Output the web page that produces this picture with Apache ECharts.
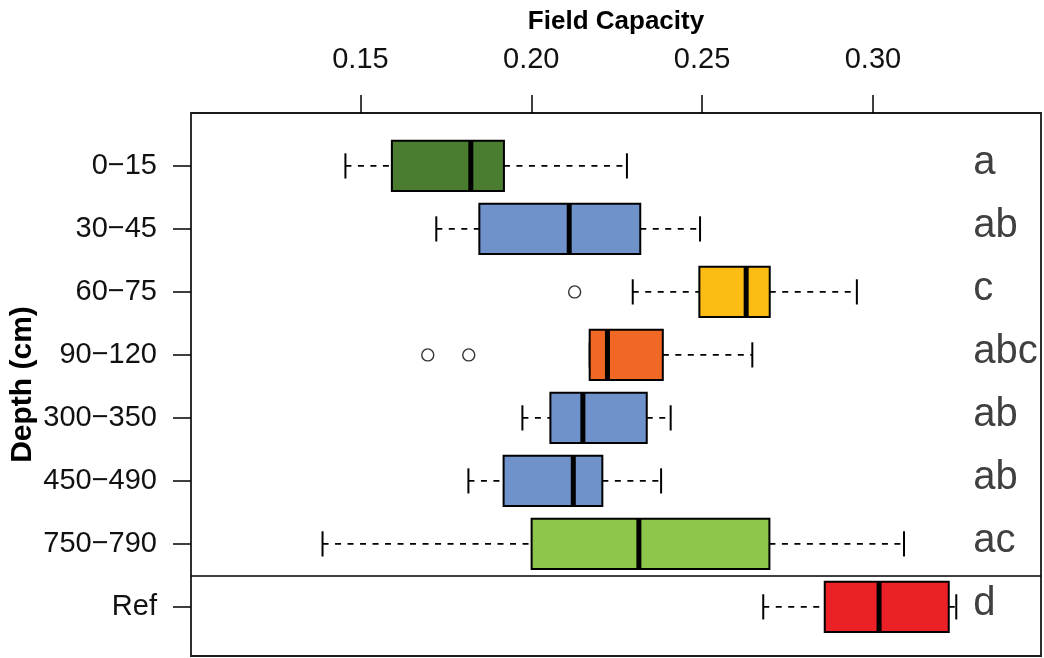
<!DOCTYPE html>
<html>
<head>
<meta charset="utf-8">
<script src="https://cdn.jsdelivr.net/npm/echarts@6/dist/echarts.min.js"></script>
<style>
  html, body { margin: 0; padding: 0; background: #fff; }
  #chart { width: 1044px; height: 658px; }
</style>
</head>
<body>
<div id="chart"></div>
<script>
// Soil field capacity by sampling depth: horizontal box plots
const categories = ['0\u221215', '30\u221245', '60\u221275', '90\u2212120', '300\u2212350', '450\u2212490', '750\u2212790', 'Ref'];
const whiskerLow  = [0.1456, 0.1722, 0.2297, 0.2171, 0.1974, 0.1816, 0.1389, 0.2679];
const lowerQuart  = [0.1592, 0.1848, 0.2492, 0.2171, 0.2056, 0.1919, 0.2001, 0.2859];
const medians     = [0.1823, 0.2111, 0.2629, 0.2223, 0.2151, 0.2123, 0.2315, 0.3018];
const upperQuart  = [0.1920, 0.2319, 0.2698, 0.2385, 0.2338, 0.2208, 0.2697, 0.3222];
const whiskerHigh = [0.2280, 0.2494, 0.2953, 0.2647, 0.2408, 0.2380, 0.3091, 0.3244];
// outliers as [depth index, value]
const outlierRows   = [2, 3, 3];
const outlierValues = [0.2127, 0.1697, 0.1817];
const groupLetters  = ['a', 'ab', 'c', 'abc', 'ab', 'ab', 'ac', 'd'];
const boxColors = ['#4a7d30', '#7092cb', '#fdbc13', '#f06823', '#7092cb', '#7092cb', '#8dc64a', '#ec2027'];
const xTicks = [0.15, 0.20, 0.25, 0.30];

const LETTER_X = 0.3294;   // x value where the group letters start
const SANS = "'Liberation Sans', Arial, sans-serif";

const boxRows = categories.map((c, i) => [i, whiskerLow[i], lowerQuart[i], medians[i], upperQuart[i], whiskerHigh[i]]);
const outlierData = outlierRows.map((r, k) => [outlierValues[k], r]);

function renderBox(params, api) {
  const i = api.value(0);
  const lo = api.coord([api.value(1), i]);
  const q1 = api.coord([api.value(2), i]);
  const md = api.coord([api.value(3), i]);
  const q3 = api.coord([api.value(4), i]);
  const hi = api.coord([api.value(5), i]);
  const y = q1[1];
  const half = api.size([0, 1])[1] * 0.4;
  const cap = half / 2;
  const dash = { stroke: '#000', lineWidth: 1.8, lineDash: [6, 6.5] };
  const solid = { stroke: '#000', lineWidth: 2 };
  const lx = api.coord([LETTER_X, i]);
  return {
    type: 'group',
    children: [
      { type: 'line', shape: { x1: lo[0], y1: y, x2: q1[0], y2: y }, style: dash },
      { type: 'line', shape: { x1: q3[0], y1: y, x2: hi[0], y2: y }, style: dash },
      { type: 'line', shape: { x1: lo[0], y1: y - cap, x2: lo[0], y2: y + cap }, style: solid },
      { type: 'line', shape: { x1: hi[0], y1: y - cap, x2: hi[0], y2: y + cap }, style: solid },
      { type: 'rect', shape: { x: q1[0], y: y - half, width: q3[0] - q1[0], height: 2 * half },
        style: { fill: boxColors[i], stroke: '#000', lineWidth: 2 } },
      { type: 'line', shape: { x1: md[0], y1: y - half, x2: md[0], y2: y + half },
        style: { stroke: '#000', lineWidth: 5 } },
      { type: 'text', x: lx[0], y: lx[1] - 3,
        style: { text: groupLetters[i], fill: '#404040', font: '40px ' + SANS, align: 'left', verticalAlign: 'middle' } }
    ]
  };
}

const chart = echarts.init(document.getElementById('chart'), null, { renderer: 'canvas' });
chart.setOption({
  animation: false,
  backgroundColor: '#fff',
  grid: { left: 191, right: 3, top: 113, bottom: 2, outerBoundsMode: 'none', containLabel: false,
    show: true, borderColor: '#1a1a1a', borderWidth: 1.8, backgroundColor: 'transparent' },
  xAxis: {
    type: 'value', position: 'top', min: 0.1004, max: 0.3492,
    name: 'Field Capacity', nameLocation: 'middle', nameGap: 78, nameMoveOverlap: false,
    nameTextStyle: { fontFamily: SANS, fontWeight: 'bold', fontSize: 26, color: '#000' },
    splitLine: { show: false },
    axisLine: { show: false, onZero: false },
    axisTick: { show: true, customValues: xTicks, length: 18, lineStyle: { color: '#000', width: 1.5 } },
    axisLabel: { customValues: xTicks, margin: 39, fontFamily: SANS, fontSize: 29, color: '#111',
      formatter: v => v.toFixed(2) }
  },
  yAxis: {
    type: 'value', inverse: true, min: -0.84, max: 7.78,
    name: 'Depth (cm)', nameLocation: 'middle', nameGap: 153, nameRotate: 90, nameMoveOverlap: false,
    nameTextStyle: { fontFamily: SANS, fontWeight: 'bold', fontSize: 30, color: '#000' },
    splitLine: { show: false },
    axisLine: { show: false, onZero: false },
    axisTick: { show: true, customValues: [0, 1, 2, 3, 4, 5, 6, 7], length: 18, lineStyle: { color: '#000', width: 1.5 } },
    axisLabel: { customValues: [0, 1, 2, 3, 4, 5, 6, 7], margin: 34, fontFamily: SANS, fontSize: 29, color: '#111',
      formatter: v => categories[Math.round(v)] }
  },
  series: [
    {
      type: 'custom',
      renderItem: renderBox,
      encode: { x: [1, 2, 3, 4, 5], y: 0 },
      data: boxRows,
      clip: false,
      markLine: {
        silent: true, symbol: 'none', label: { show: false },
        lineStyle: { color: '#000', width: 1.6, type: 'solid' },
        data: [{ yAxis: 6.5 }]
      }
    },
    {
      type: 'scatter',
      data: outlierData,
      symbol: 'circle', symbolSize: 12,
      itemStyle: { color: 'rgba(0,0,0,0)', borderColor: '#000', borderWidth: 1.4 }
    }
  ]
});
</script>
</body>
</html>
